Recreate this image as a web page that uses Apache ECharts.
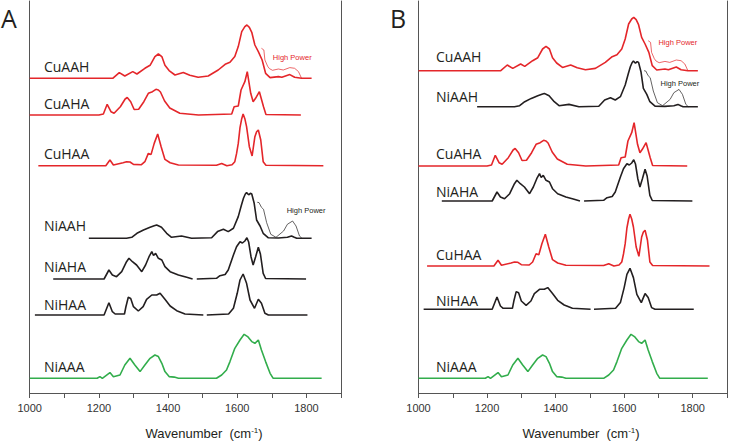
<!DOCTYPE html>
<html>
<head>
<meta charset="utf-8">
<script src="https://cdn.jsdelivr.net/npm/echarts@6/dist/echarts.min.js"></script>
<style>
html,body{margin:0;padding:0;background:#fff;}
#c{width:730px;height:441px;}
</style>
</head>
<body>
<div id="c"></div>
<script>
// ---- Data: intensity traces [wavenumber, intensity above own baseline] ----
const cuAAH = [[1000,0],[1240,0],[1259,5.7],[1275,2.3],[1298,6.7],[1310,4.3],[1333,10],[1348,13],[1362,21.7],[1372,24.3],[1382,21.7],[1391,13],[1403,7.7],[1420,3.3],[1444,5.7],[1463,3],[1487,1],[1516,2.3],[1545,8.3],[1565,14],[1579,16],[1593,21.7],[1603,31.7],[1613,46.7],[1622,51.7],[1628,53.3],[1635,51],[1642,46],[1651,33.3],[1661,26.7],[1672,18.3],[1682,5],[1695,0.7],[1719,1.7],[1729,1],[1752,3.7],[1766,1],[1786,0],[1815,0]];
const cuAAH_hp = [[1670,30],[1677,28.3],[1680,18.3],[1688,12],[1693,9.7],[1702,8],[1719,9.3],[1733,8.3],[1752,10.7],[1766,10],[1777,6.7],[1786,0]];
const cuAHA = [[1000,0],[1200,0],[1213,1],[1224,10.7],[1235,3.3],[1244,1.7],[1262,8.3],[1276,16],[1282,17.5],[1292,13.3],[1302,5.5],[1315,5.7],[1330,13.3],[1343,21.7],[1355,23.3],[1365,25.7],[1372,25],[1378,23],[1390,14],[1405,7],[1434,1.7],[1488,0],[1584,1],[1591,8.3],[1603,9],[1611,25],[1622,33.3],[1629,43.3],[1639,21.7],[1646,13.3],[1653,16.7],[1664,23.3],[1668,18.3],[1676,8.3],[1683,0.5],[1784,0]];
const cuHAA = [[1025,0],[1220,0],[1232,5.7],[1242,0.7],[1270,3],[1280,4],[1290,3.7],[1300,1.3],[1323,1],[1333,4],[1343,12.3],[1351,11.3],[1360,22.3],[1370,31.7],[1380,19],[1391,6.3],[1406,3],[1430,0.7],[1540,0.5],[1555,2.3],[1570,0],[1585,1],[1593,4],[1598,12],[1603,22.3],[1608,38],[1613,47],[1617,51.7],[1622,47],[1627,39],[1635,19],[1643,9.7],[1651,29],[1656,34],[1661,35.7],[1668,25.7],[1675,4],[1683,0.5],[1849,0]];
const niAAH = [[1171,0],[1280,0],[1295,1],[1310,5],[1329,8.3],[1348,11],[1360,12.5],[1367,13.3],[1375,12],[1381,11],[1396,5],[1410,1],[1439,2.3],[1468,0],[1526,0.5],[1543,6.7],[1560,9],[1574,6.7],[1589,10],[1603,21.7],[1612,33],[1618,40],[1623,44],[1627,45.7],[1633,43.5],[1638,45],[1642,44.3],[1649,35],[1656,18.3],[1666,12.3],[1675,5],[1690,0.5],[1719,0.3],[1745,1],[1757,2.3],[1765,1],[1772,0],[1815,0]];
const niAAH_hp = [[1658,36],[1663,35.7],[1670,31],[1676,29],[1685,15.7],[1697,4],[1712,1],[1734,7.3],[1745,14],[1760,17.3],[1770,12.3],[1780,2.3],[1787,0]];
const niAHA_a = [[1068,0],[1215,0],[1229,9],[1239,4],[1251,2.3],[1266,7.3],[1280,17.3],[1287,20.7],[1297,17.3],[1309,14],[1324,7.3],[1335,14],[1345,22.3],[1353,27.3],[1358,23.5],[1364,25.7],[1372,20.7],[1382,19],[1391,12.3],[1406,7.3],[1430,4],[1454,1.7],[1471,0]];
const niAHA_b = [[1483,0],[1540,0.7],[1550,3.3],[1565,4.5],[1574,9],[1589,24],[1598,32.3],[1608,37.3],[1615,36],[1622,38],[1628,41.3],[1633,37],[1640,22],[1646,14],[1653,22],[1661,31.7],[1667,25],[1675,5.7],[1682,0.5],[1799,0]];
const niHAA_a = [[1015,0],[1215,0],[1229,12.3],[1239,3.3],[1247,1],[1274,1],[1278,8],[1285,17.7],[1292,16.5],[1300,8.3],[1314,4],[1328,8.3],[1338,15.7],[1353,20],[1367,20],[1377,21.7],[1391,15.7],[1406,9],[1425,4.3],[1449,1],[1502,0]];
const niHAA_b = [[1512,0],[1575,1],[1589,6.7],[1600,21.7],[1608,35],[1617,41],[1627,31.7],[1637,15],[1650,6.7],[1661,15.7],[1670,11.7],[1680,1.7],[1690,0],[1803,0]];
const niAAA = [[1000,0],[1195,0],[1203,1.7],[1210,0],[1232,5.7],[1242,1.5],[1261,3.3],[1275,13.3],[1290,20],[1304,13.3],[1319,6.7],[1333,13.3],[1348,20],[1362,23.3],[1372,21.7],[1382,15],[1391,6.7],[1403,1.7],[1418,1.2],[1430,0],[1540,0],[1555,3.3],[1569,8.3],[1579,16.7],[1593,30],[1608,38.3],[1620,44],[1630,41.7],[1642,36.7],[1651,35],[1661,38.3],[1670,28.3],[1682,16.7],[1695,5],[1704,0],[1844,0]];

// Sample names and their traces
const names = ['CuAAH','CuAHA','CuHAA','NiAAH','NiAHA','NiHAA','NiAAA'];
const traces = {CuAAH:[cuAAH], CuAHA:[cuAHA], CuHAA:[cuHAA], NiAAH:[niAAH], NiAHA:[niAHA_a, niAHA_b], NiHAA:[niHAA_a, niHAA_b], NiAAA:[niAAA]};
const highPower = {CuAAH: cuAAH_hp, NiAAH: niAAH_hp};
const metal = {CuAAH:'Cu',CuAHA:'Cu',CuHAA:'Cu',NiAAH:'Ni',NiAHA:'Ni',NiHAA:'Ni',NiAAA:'NiAAA'};

// Stack offsets (vertical baselines) in each panel
const orderA = ['CuAAH','CuAHA','CuHAA','NiAAH','NiAHA','NiHAA','NiAAA'];
const baseA  = [314.7, 278, 227.3, 154.7, 114, 78, 14.7];
const orderB = ['CuAAH','NiAAH','CuAHA','NiAHA','CuHAA','NiHAA','NiAAA'];
const baseB  = [322.3, 286.3, 227, 192, 127, 83.7, 14.7];

// Axis
const xMin = 1000, xMax = 1900, xStep = 100;
const tickLabels = [1000, 1200, 1400, 1600, 1800];

const colors = {Cu:'#e4262a', Ni:'#231f20', NiAAA:'#32ad4c'};

const chart = echarts.init(document.getElementById('c'), null, {renderer:'svg'});
const axisColor = '#555';
const grids = [
  {left:29.7, right:389, top:1, bottom:48},
  {left:418.5, right:1.3, top:1, bottom:48}
];
const xAxes = [], yAxes = [];
[0,1].forEach(g => {
  xAxes.push({gridIndex:g, type:'value', min:xMin, max:xMax, interval:xStep, position:'bottom',
    axisLine:{show:true, lineStyle:{color:axisColor, width:1}},
    axisTick:{show:true, length:4, lineStyle:{color:axisColor}},
    splitLine:{show:false},
    axisLabel:{show:true, margin:9, color:'#333', fontSize:11, fontFamily:'Liberation Sans, Arial',
      formatter: v => tickLabels.includes(v) ? String(v) : ''}});
  xAxes.push({gridIndex:g, type:'value', min:xMin, max:xMax, interval:xStep, position:'top',
    axisLine:{show:true, lineStyle:{color:axisColor, width:1}},
    axisTick:{show:true, inside:true, length:5, lineStyle:{color:axisColor}},
    splitLine:{show:false}, axisLabel:{show:false}});
  yAxes.push({gridIndex:g, type:'value', min:0, max:392, position:'left',
    axisLine:{show:true, onZero:false, lineStyle:{color:axisColor}}, axisTick:{show:false}, axisLabel:{show:false}, splitLine:{show:false}});
  yAxes.push({gridIndex:g, type:'value', min:0, max:392, position:'right',
    axisLine:{show:true, onZero:false, lineStyle:{color:axisColor}}, axisTick:{show:false}, axisLabel:{show:false}, splitLine:{show:false}});
});

const series = [];
function addPanel(g, order, bases){
  order.forEach((nm, i) => {
    const c = colors[metal[nm]];
    traces[nm].forEach(seg => {
      series.push({type:'line', xAxisIndex:g*2, yAxisIndex:g*2, showSymbol:false, silent:true, animation:false,
        lineStyle:{color:c, width:1.6}, data: seg.map(p => [p[0], bases[i] + p[1]])});
    });
    if (highPower[nm]) {
      series.push({type:'line', xAxisIndex:g*2, yAxisIndex:g*2, showSymbol:false, silent:true, animation:false,
        lineStyle:{color:c, width:0.7}, data: highPower[nm].map(p => [p[0], bases[i] + p[1]])});
    }
  });
}
addPanel(0, orderA, baseA);
addPanel(1, orderB, baseB);

chart.setOption({animation:false, grid:grids, xAxis:xAxes, yAxis:yAxes, series:series});

// Labels placed in data coordinates
const labelDyA = [11.6, 11.7, 12.4, 12.5, 12.3, 11, 11.6];
const labelDyB = [14, 10.7, 12.7, 9.3, 11.5, 9.3, 12.3];
const graphics = [];
function addLabels(g, order, bases, dys, w){
  order.forEach((nm, i) => {
    const p = chart.convertToPixel({gridIndex:g}, [w, bases[i] + dys[i]]);
    graphics.push({type:'text', x:p[0], y:p[1], silent:true,
      style:{text:nm, fill:'#231f20', font:'14px "Open Sans"', textAlign:'left', textVerticalAlign:'middle'}});
  });
}
addLabels(0, orderA, baseA, labelDyA, 1041);
addLabels(1, orderB, baseB, labelDyB, 1051);

function hpLabel(g, w, v, color){
  const p = chart.convertToPixel({gridIndex:g}, [w, v]);
  graphics.push({type:'text', x:p[0], y:p[1], silent:true,
    style:{text:'High Power', fill:color, font:'7.5px "Liberation Sans"', textAlign:'left', textVerticalAlign:'middle'}});
}
hpLabel(0, 1703, baseA[0] + 21.3, colors.Cu);
hpLabel(0, 1743, baseA[3] + 28.3, colors.Ni);
hpLabel(1, 1700, baseB[0] + 28, colors.Cu);
hpLabel(1, 1706, baseB[1] + 23.4, colors.Ni);

// Panel letters
graphics.push({type:'text', x:1, y:18, silent:true, style:{text:'A', fill:'#231f20', font:'25px "Open Sans"', textAlign:'left', textVerticalAlign:'middle'}});
graphics.push({type:'text', x:390, y:18, silent:true, style:{text:'B', fill:'#231f20', font:'25px "Open Sans"', textAlign:'left', textVerticalAlign:'middle'}});

// Axis titles
[204, 581].forEach(cx => {
  graphics.push({type:'text', x:cx, y:433, silent:true, style:{
    text:'{a|Wavenumber  (cm}{s|-1}{a|)}', textAlign:'center', textVerticalAlign:'middle',
    rich:{a:{fontSize:13, fontFamily:'Liberation Sans', fill:'#231f20', lineHeight:14},
          s:{fontSize:8, fontFamily:'Liberation Sans', fill:'#231f20', lineHeight:8, verticalAlign:'top'}}}});
});

chart.setOption({graphic:graphics});
</script>
</body>
</html>
